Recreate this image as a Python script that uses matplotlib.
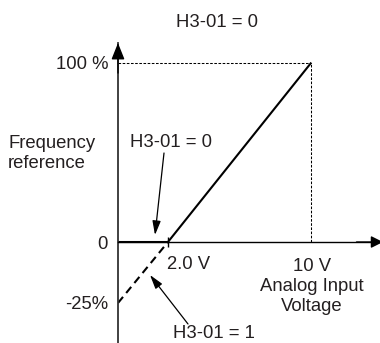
import numpy as np
import matplotlib.pyplot as plt
import matplotlib

matplotlib.rcParams['font.family'] = 'Liberation Sans'
matplotlib.rcParams['font.size'] = 13.3

# H3-01 = 0 : bias clipped at 0 % below 2.0 V
volt_h0 = [0.0, 2.0, 10.0]
freq_h0 = [0, 0, 100]
# H3-01 = 1 : negative part of the bias kept
volt_h1 = [0.0, 2.0]
freq_h1 = [-25, 0]

ytick_vals = [100, 0, -25]
ytick_labels = ['100 %', '0', '-25%']

TXT = '#231f20'
W, H = 380, 343


# schematic, not to scale: the 0-2 V / negative region is stretched
def x_fwd(v):
    v = np.asarray(v, dtype=float)
    return np.where(v < 2, v * 25.0, 50 + (v - 2) * 17.94)

def x_inv(p):
    p = np.asarray(p, dtype=float)
    return np.where(p < 50, p / 25.0, 2 + (p - 50) / 17.94)

def y_fwd(f):
    f = np.asarray(f, dtype=float)
    return np.where(f < 0, f * 2.44, f * 1.795)

def y_inv(p):
    p = np.asarray(p, dtype=float)
    return np.where(p < 0, p / 2.44, p / 1.795)


def px(x, y):
    # image pixel (top-left origin) -> figure pixels
    return (x, H - y)


fig = plt.figure(figsize=(W / 100, H / 100), dpi=100)
ax = fig.add_axes([118 / W, 0, 265 / W, 300 / H])
ax.set_xscale('function', functions=(x_fwd, x_inv))
ax.set_yscale('function', functions=(y_fwd, y_inv))
ax.set_xlim(0, 14)
ax.set_ylim(-41.4, 110.9)

for s in ['top', 'right']:
    ax.spines[s].set_visible(False)
ax.spines['bottom'].set_position(('data', 0))
ax.spines['bottom'].set_linewidth(1.0)
ax.spines['left'].set_linewidth(1.3)
ax.spines['left'].set_color('#333333')

# arrow heads on the axes
head = dict(color='k', shrinkA=0, shrinkB=0, mutation_scale=10)
ax.annotate('', xy=(0, 1), xycoords='axes fraction', xytext=(0, 0.9),
            textcoords='axes fraction', annotation_clip=False,
            arrowprops=dict(arrowstyle='-|>,head_length=1.0,head_width=0.4', lw=1.0, **head))
ax.annotate('', xy=(1, 0), xycoords=ax.get_yaxis_transform(), xytext=(0.9, 0),
            textcoords=ax.get_yaxis_transform(), annotation_clip=False,
            arrowprops=dict(arrowstyle='-|>,head_length=0.72,head_width=0.36', lw=1.0, **head))

# dotted guides to the 10 V / 100 % point
ax.hlines(freq_h0[-1], volt_h0[0], volt_h0[-1], colors='k', lw=0.75, linestyles=(0, (2.5, 1.5)))
ax.vlines(volt_h0[-1], 0, freq_h0[-1], colors='k', lw=0.75, linestyles=(0, (2.5, 1.5)))

ax.plot(volt_h0, freq_h0, color='k', lw=1.5, solid_capstyle='butt')
ax.plot(volt_h1, freq_h1, color='k', lw=1.5, linestyle=(0, (3.8, 2.4)))

ax.set_xticks([volt_h0[1]])
ax.tick_params(axis='x', direction='inout', length=7.2, width=1, color='k', labelbottom=False)
ax.set_yticks(ytick_vals, ytick_labels)
ax.tick_params(axis='y', length=0, pad=7.2, labelsize=13.3, labelcolor=TXT)

# labels (multi-line ones are anchored on the baseline of their last line)
ax.annotate('H3-01 = 0', xy=px(217, 27), xycoords='figure pixels', ha='center', va='baseline', color=TXT)
ax.annotate('Frequency\nreference', xy=px(8, 168), xycoords='figure pixels', ha='left', va='baseline',
            linespacing=1.25, color=TXT)
ax.annotate('H3-01 = 0', xy=px(130, 147), xycoords='figure pixels', ha='left', va='baseline', color=TXT)
ax.annotate('H3-01 = 1', xy=px(173, 338), xycoords='figure pixels', ha='left', va='baseline',
            color=TXT, annotation_clip=False)
ax.annotate('2.0 V', xy=(volt_h0[1], 0), xytext=(-1, -27), textcoords='offset pixels',
            ha='left', va='baseline', color=TXT)
ax.annotate('10 V\nAnalog Input\nVoltage', xy=(volt_h0[-1], 0), xytext=(0.5, -69), textcoords='offset pixels',
            ha='center', va='baseline', linespacing=1.25, color=TXT)

pointer = dict(arrowstyle='-|>,head_length=0.85,head_width=0.25', lw=0.9, **head)
ax.annotate('', xy=px(155, 235), xycoords='figure pixels', xytext=px(164, 153),
            textcoords='figure pixels', arrowprops=pointer, annotation_clip=False)
ax.annotate('', xy=px(150, 275), xycoords='figure pixels', xytext=px(188, 324),
            textcoords='figure pixels', arrowprops=pointer, annotation_clip=False)

fig.savefig('out.png', dpi=100)
